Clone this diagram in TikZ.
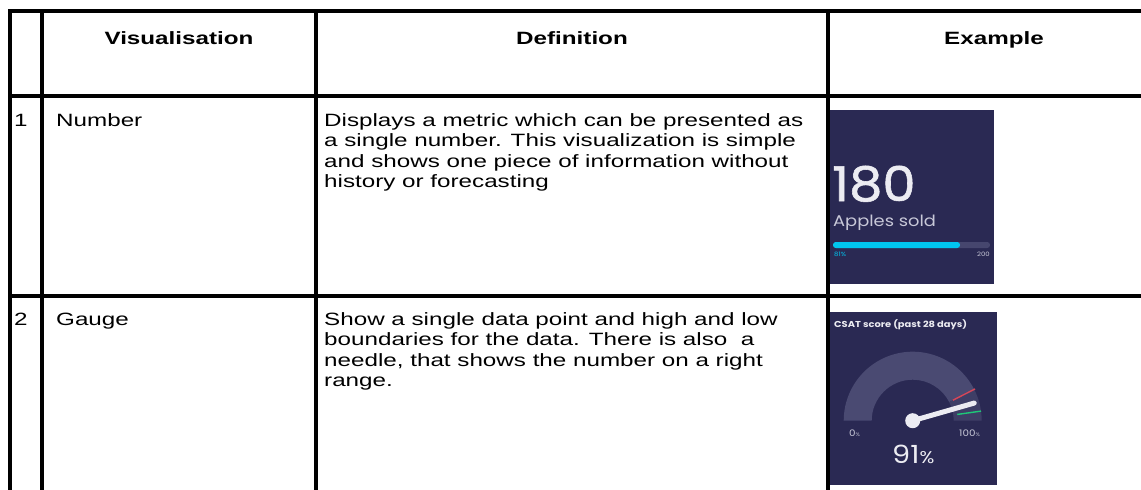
\documentclass[tikz,border=0pt]{standalone}
\usepackage{fontspec}
\setmainfont{Liberation Sans}[FakeStretch=1.36]
\newfontfamily\popf{Poppins}[FakeStretch=1.15]
\newfontfamily\popm{Poppins}[FakeStretch=1.1,FakeBold=1.2]
\definecolor{navy}{RGB}{42,41,83}
\definecolor{arcc}{RGB}{74,74,114}
\definecolor{arcd}{RGB}{62,62,102}
\definecolor{barbg}{RGB}{70,70,110}
\definecolor{cyanbar}{RGB}{0,198,240}
\definecolor{offw}{RGB}{236,236,242}
\definecolor{softw}{RGB}{200,200,216}
\definecolor{tickred}{RGB}{214,70,88}
\definecolor{tickgreen}{RGB}{30,200,120}
\begin{document}
\begin{tikzpicture}[x=1pt,y=-1pt,
  grid/.style={line width=3.1pt,black},
  hdr/.style={font=\fontsize{17.8}{20.5}\selectfont\bfseries,inner sep=0pt,anchor=base},
  body/.style={font=\fontsize{17.8}{20.5}\selectfont,inner sep=0pt},
  pop/.style={inner sep=0pt,anchor=base west}]
\useasboundingbox (0,0) rectangle (1141,490);
% example 1: number tile
\fill[navy] (828,110) rectangle (994,284);
\node[pop,text=offw,text depth=0pt,font=\popm\fontsize{48}{48}\selectfont] (n180) at (832,201) {180};
\node[pop,text=softw,text height=11pt,font=\popf\fontsize{15.5}{15.5}\selectfont] (napp) at (833,226) {Apples sold};
\fill[barbg,rounded corners=2.8pt] (833,242) rectangle (990,248);
\fill[cyanbar,rounded corners=2.8pt] (833,242) rectangle (960,248);
\node[pop,text=cyanbar,font=\popf\fontsize{6}{6}\selectfont] (np) at (834,256) {81\%};
\node[inner sep=0pt,anchor=base east,text=softw,font=\popf\fontsize{6}{6}\selectfont] (nmax) at (990,256) {200};
% example 2: gauge tile
\fill[navy] (828,312) rectangle (997,485);
\node[pop,text=offw,font=\popf\bfseries\fontsize{8.6}{8.6}\selectfont] (gt) at (834,327) {CSAT score (past 28 days)};
\begin{scope}[shift={(912.7,420.7)},yscale=-1]
  \fill[arcc] (27:69) arc[start angle=27,end angle=180,radius=69] -- (180:41) arc[start angle=180,end angle=27,radius=41] -- cycle;
  \fill[arcd] (0:69) arc[start angle=0,end angle=27,radius=69] -- (27:41) arc[start angle=27,end angle=0,radius=41] -- cycle;
  \draw[tickred,line width=1.4pt] (27:45) -- (27:70);
  \draw[tickgreen,line width=1.4pt] (8:45) -- (8:69);
  \draw[offw,line width=5pt,line cap=round] (0,0) -- (16:64);
  \fill[offw] (0,0) circle (7.5);
\end{scope}
\node[pop,text=softw,font=\popf\fontsize{9}{9}\selectfont] (g0) at (849,436) {0{\fontsize{5}{5}\selectfont\%}};
\node[pop,text=softw,font=\popf\fontsize{9}{9}\selectfont] (g100) at (959,436) {100{\fontsize{5}{5}\selectfont\%}};
\node[pop,text=offw,font=\popf\fontsize{25}{25}\selectfont] (g91) at (892,463) {91{\fontsize{17}{17}\selectfont\%}};
% table grid
\draw[grid] (1141,11) -- (10,11) -- (10,490);
\draw[grid] (42,11) -- (42,490);
\draw[grid] (316,11) -- (316,490);
\draw[grid] (828,11) -- (828,490);
\draw[grid] (10,96) -- (1141,96);
\draw[grid] (10,296) -- (1141,296);
% header
\node[hdr] (hv) at (179,44) {Visualisation};
\node[hdr] (hd) at (572,44) {Definition};
\node[hdr] (he) at (994,44) {Example};
% row 1
\node[body,anchor=base west] (r1n) at (14,126) {1};
\node[body,anchor=base west] (r1v) at (56,126) {Number};
\node[body,anchor=north west,align=left] (r1d) at (324,113) {Displays a metric which can be presented as\\a single number. This visualization is simple\\and shows one piece of information without\\history or forecasting};
% row 2
\node[body,anchor=base west] (r2n) at (14,325) {2};
\node[body,anchor=base west] (r2v) at (56,325) {Gauge};
\node[body,anchor=north west,align=left] (r2d) at (324,312) {Show a single data point and high and low\\boundaries for the data. There is also~ a\\needle, that shows the number on a right\\range.};
\end{tikzpicture}
\end{document}
